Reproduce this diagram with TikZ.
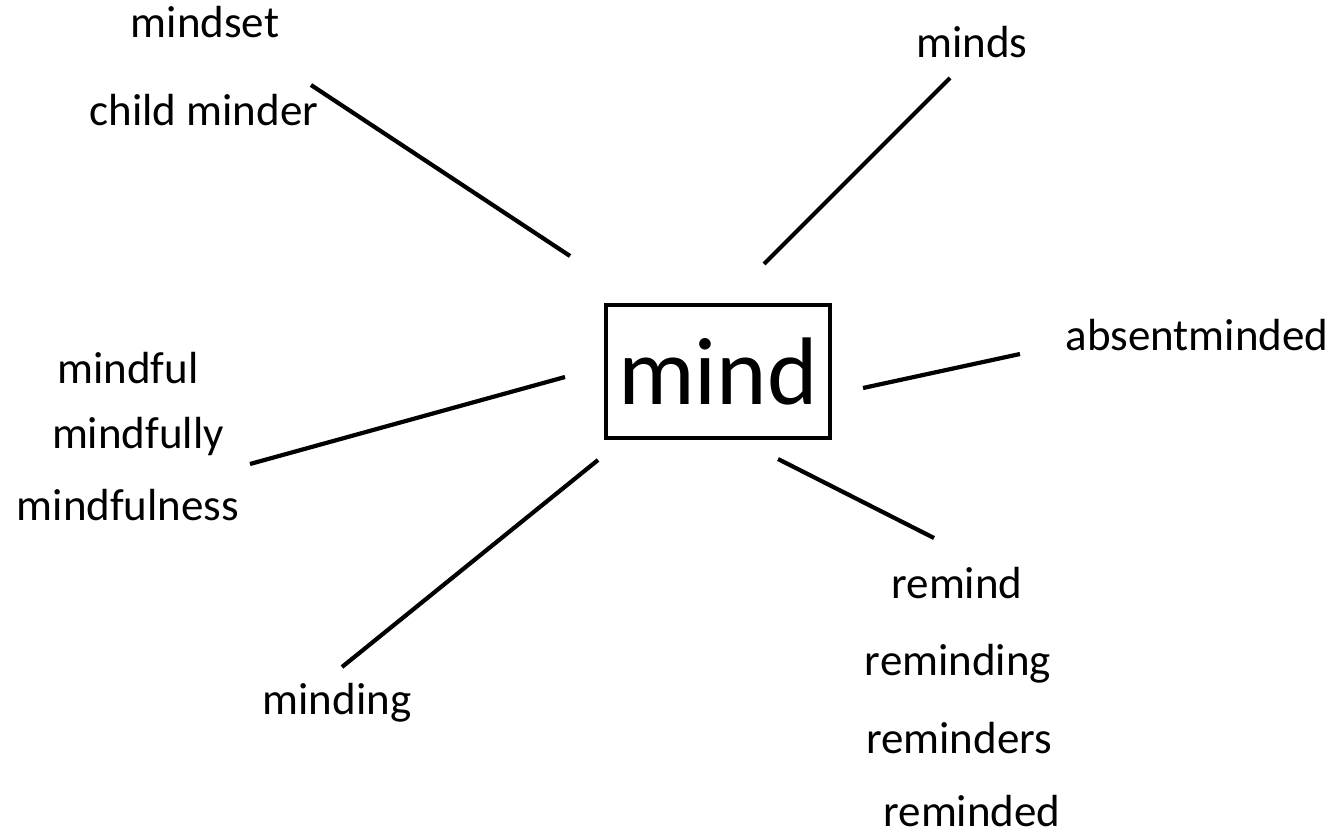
\documentclass[tikz,border=0pt]{standalone}
\usepackage{fontspec}
\setmainfont{Carlito}
\begin{document}
\begin{tikzpicture}[x=1pt,y=-1pt,
  word/.style={anchor=base,inner sep=0pt,font=\fontsize{45}{54}\selectfont},
  link/.style={line width=4.2pt}]
\useasboundingbox (0,0) rectangle (1332,836);
\fill[white] (0,0) rectangle (1332,836);
% centre
\node[draw,line width=3.5pt,minimum width=224pt,minimum height=133pt,inner sep=0pt,
  font=\fontsize{96}{110}\selectfont] (mind) at (718,371.5) {mind};
% words
\node[word] (mindset) at (205,37) {mindset};
\node[word] (child) at (204,125) {child minder};
\node[word] (minds) at (972,57) {minds};
\node[word] (absent) at (1197,350) {absentminded};
\node[word] (mindful) at (128,383) {mindful};
\node[word] (mindfully) at (138,448) {mindfully};
\node[word] (mindfulness) at (128,520) {mindfulness};
\node[word] (minding) at (337,714) {minding};
\node[word] (remind) at (957,598) {remind};
\node[word] (reminding) at (958,675) {reminding};
\node[word] (reminders) at (959,753) {reminders};
\node[word] (reminded) at (972,826) {reminded};
% connector end points
\coordinate (a1) at (570,256); \coordinate (a2) at (311,85);
\coordinate (b1) at (764,264); \coordinate (b2) at (950,78);
\coordinate (c1) at (863,388); \coordinate (c2) at (1020,354);
\coordinate (d1) at (565,377); \coordinate (d2) at (250,464);
\coordinate (e1) at (598,460); \coordinate (e2) at (342,667);
\coordinate (f1) at (778,459); \coordinate (f2) at (934,538);
\draw[link] (a1) -- (a2);
\draw[link] (b1) -- (b2);
\draw[link] (c1) -- (c2);
\draw[link] (d1) -- (d2);
\draw[link] (e1) -- (e2);
\draw[link] (f1) -- (f2);
\end{tikzpicture}
\end{document}
